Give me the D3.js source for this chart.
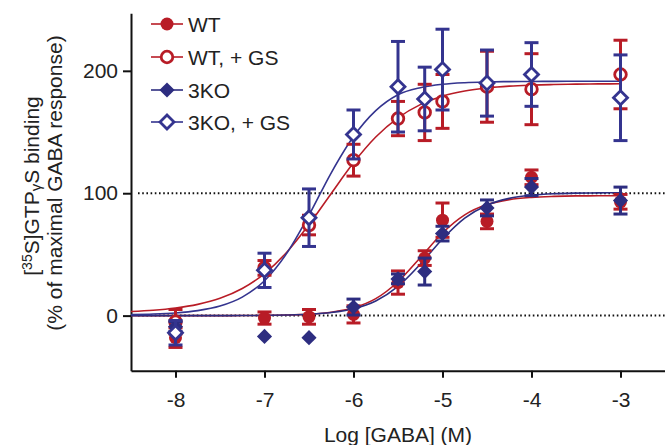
<!DOCTYPE html>
<html>
<head>
<meta charset="utf-8">
<script src="https://cdn.jsdelivr.net/npm/d3@7"></script>
<style>
  body { margin: 0; background: #fff; }
  svg text { font-family: "Liberation Sans", Arial, sans-serif; fill: #222; }
</style>
</head>
<body>
<div id="chart"></div>
<script>
// data
var logGaba = [-8, -7, -6.5, -6, -5.5, -5.2, -5, -4.5, -4, -3];

var wtMean = [-18, -2, -1, 1, 27, 47, 78, 77, 113, 93];
var wtErr = [8, 5, 6, 7, 9.5, 6, 14, 6, 6, 6];
var wtGsMean = [-5, 39, 74, 127, 161, 166, 175, 187, 185, 197];
var wtGsErr = [10, 6, 8, 13, 14, 23, 22, 29, 29, 28];
var koMean = [-9, -17, -18, 7, 30, 36, 67, 88, 105, 94];
var koErr = [4, 0, 0, 6.5, 4, 11, 6, 6.5, 7, 11];
var koGsMean = [-14, 37, 80, 148, 187, 177, 201, 190, 197, 178];
var koGsErr = [10, 14, 23.5, 20, 37, 26, 33, 27, 26, 35];

// fitted curves, sampled off the figure
var fitX = [-8.5, -8.25, -8, -7.75, -7.5, -7.25, -7, -6.75, -6.5, -6.25, -6, -5.75,
            -5.5, -5.25, -5, -4.75, -4.5, -4.25, -4, -3.75, -3.5, -3.25, -3];
var wtFit = [0, 0, 0, 0, 0, 0.1, 0.2, 0.5, 1.2, 2.8, 6.4, 13.9,
             27.7, 47.3, 67.5, 82.3, 90.7, 94.8, 96.6, 97.4, 97.8, 97.9, 98];
var wtGsFit = [3.4, 4.4, 6.2, 9.2, 14.1, 22.1, 34.3, 51.8, 74.4, 99.8, 124.8, 145.9,
               161.6, 172.4, 179.3, 183.5, 186, 187.5, 188.3, 188.8, 189.1, 189.3, 189.4];
var koFit = [0, 0, 0, 0, 0, 0.1, 0.2, 0.5, 1.1, 2.5, 5.6, 11.9,
             23.8, 41.9, 62.6, 79.6, 90.2, 95.8, 98.4, 99.6, 100.1, 100.3, 100.4];
var koGsFit = [0.9, 1.3, 2.2, 4.1, 7.8, 15.1, 28.5, 50.9, 82.1, 116.7, 146.3, 167.5,
               180.5, 186.2, 189, 190.3, 190.9, 191.2, 191.3, 191.4, 191.5, 191.5, 191.5];

var xTicks = [-8, -7, -6, -5, -4, -3];
var yTicks = [0, 100, 200];
var refLines = [0, 100];

var red = "#b81c26";
var blue = "#2d2d80";
var fontSize = 21;

var series = [
  {name: "WT", mean: wtMean, err: wtErr, fit: wtFit, color: red, shape: "circle", open: false},
  {name: "WT, + GS", mean: wtGsMean, err: wtGsErr, fit: wtGsFit, color: red, shape: "circle", open: true},
  {name: "3KO", mean: koMean, err: koErr, fit: koFit, color: blue, shape: "diamond", open: false},
  {name: "3KO, + GS", mean: koGsMean, err: koGsErr, fit: koGsFit, color: "#34348f", shape: "diamond", open: true}
];

var svgWidth = 665, svgHeight = 445;

var svg = d3.select("#chart").append("svg")
  .attr("width", svgWidth)
  .attr("height", svgHeight);

var x = d3.scaleLinear().domain([-8.5, -2.5]).range([131, 665]);
var y = d3.scaleLinear().domain([-45, 247]).range([370.7, 13.3]);

// dotted reference lines
svg.selectAll(".ref")
  .data(refLines)
  .enter()
  .append("line")
  .attr("x1", 138)
  .attr("x2", svgWidth)
  .attr("y1", d => y(d))
  .attr("y2", d => y(d))
  .attr("stroke", "#111")
  .attr("stroke-width", 2)
  .attr("stroke-dasharray", "1.6,2.6");

// axes
var xAxis = svg.append("g")
  .attr("transform", `translate(0, ${y(-45)})`)
  .call(d3.axisBottom(x).tickValues(xTicks).tickSize(7).tickSizeOuter(0).tickPadding(14)
    .tickFormat(d => String(d)));

var yAxis = svg.append("g")
  .attr("transform", `translate(${x(-8.5)}, 0)`)
  .call(d3.axisLeft(y).tickValues(yTicks).tickSize(8).tickSizeOuter(0).tickPadding(5));

[xAxis, yAxis].forEach(function(g) {
  g.select(".domain").attr("stroke", "#111").attr("stroke-width", 2);
  g.selectAll(".tick line").attr("stroke", "#111").attr("stroke-width", 2);
  g.selectAll(".tick text").attr("font-size", fontSize).attr("fill", "#222")
    .attr("font-family", "Liberation Sans, Arial, sans-serif");
});

// curves
var line = d3.line()
  .x((d, i) => x(fitX[i]))
  .y(d => y(d))
  .curve(d3.curveMonotoneX);

series.forEach(function(s) {
  svg.append("path")
    .attr("d", line(s.fit))
    .attr("fill", "none")
    .attr("stroke", s.color)
    .attr("stroke-width", 1.6);
});

function drawMarker(g, s, cx, cy) {
  if (s.shape === "circle") {
    g.append("circle")
      .attr("cx", cx).attr("cy", cy)
      .attr("r", s.open ? 5.8 : 6.5)
      .attr("fill", s.open ? "#fff" : s.color)
      .attr("stroke", s.color)
      .attr("stroke-width", s.open ? 2.8 : 0);
  } else {
    g.append("path")
      .attr("d", d3.symbol().type(d3.symbolSquare).size(s.open ? 98 : 115)())
      .attr("transform", `translate(${cx},${cy}) rotate(45)`)
      .attr("fill", s.open ? "#fff" : s.color)
      .attr("stroke", s.color)
      .attr("stroke-width", s.open ? 2.8 : 0);
  }
}

// error bars and points
series.forEach(function(s) {
  var g = svg.append("g");
  logGaba.forEach(function(lx, i) {
    var cx = x(lx);
    var m = s.mean[i], e = s.err[i];
    if (e > 0) {
      g.append("line")
        .attr("x1", cx).attr("x2", cx)
        .attr("y1", y(m - e)).attr("y2", y(m + e))
        .attr("stroke", s.color).attr("stroke-width", 3);
      [m - e, m + e].forEach(function(v) {
        g.append("line")
          .attr("x1", cx - 7).attr("x2", cx + 7)
          .attr("y1", y(v)).attr("y2", y(v))
          .attr("stroke", s.color).attr("stroke-width", 3);
      });
    }
    drawMarker(g, s, cx, y(m));
  });
});

// legend
var legend = svg.append("g");
var legendY = [24, 57, 90, 122];
series.forEach(function(s, i) {
  var row = legend.append("g");
  row.append("line")
    .attr("x1", 151).attr("x2", 183)
    .attr("y1", legendY[i]).attr("y2", legendY[i])
    .attr("stroke", s.color).attr("stroke-width", 1.6);
  drawMarker(row, s, 167, legendY[i]);
  row.append("text")
    .attr("x", 188)
    .attr("y", legendY[i] + 7.5)
    .attr("font-size", fontSize)
    .text(s.name);
});

// axis titles
svg.append("text")
  .attr("x", 398)
  .attr("y", 442)
  .attr("text-anchor", "middle")
  .attr("font-size", fontSize)
  .text("Log [GABA] (M)");

var yTitle = svg.append("text")
  .attr("transform", "rotate(-90)")
  .attr("x", -186)
  .attr("y", 39)
  .attr("text-anchor", "middle")
  .attr("font-size", fontSize);
yTitle.append("tspan").text("[");
yTitle.append("tspan").attr("font-size", 14).attr("dy", -7).text("35");
yTitle.append("tspan").attr("dy", 7).text("S]GTP");
yTitle.append("tspan").attr("font-size", 15).attr("dy", 2).text("γ");
yTitle.append("tspan").attr("dy", -2).text("S binding");

svg.append("text")
  .attr("transform", "rotate(-90)")
  .attr("x", -183)
  .attr("y", 62)
  .attr("text-anchor", "middle")
  .attr("font-size", fontSize)
  .text("(% of maximal GABA response)");
</script>
</body>
</html>
